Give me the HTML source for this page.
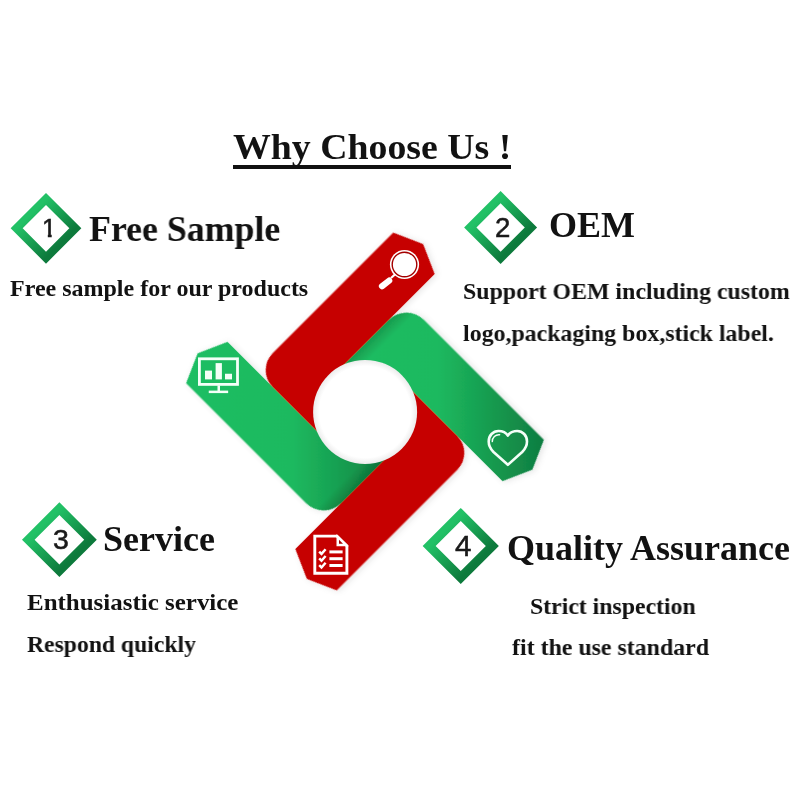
<!DOCTYPE html>
<html>
<head>
<meta charset="utf-8">
<title>Why Choose Us</title>
<style>
html,body{margin:0;padding:0;background:#fff;}
body{width:800px;height:800px;position:relative;overflow:hidden;font-family:"Liberation Serif",serif;color:#111;}
svg{position:absolute;left:0;top:0;}
.t{will-change:transform;position:absolute;white-space:nowrap;font-weight:bold;transform-origin:0 0;line-height:1;color:#121212;}
.h{font-size:36px;}
.b{font-size:24px;}
.n{will-change:transform;-webkit-text-stroke:0.55px #1a1a1a;position:absolute;font-family:"Liberation Sans",sans-serif;font-size:25px;line-height:1;color:#1a1a1a;transform-origin:0 0;}
</style>
</head>
<body>
<svg width="800" height="800" viewBox="0 0 800 800">
<defs>
<linearGradient id="gL" gradientUnits="userSpaceOnUse" x1="-126.5" y1="-126.5" x2="24" y2="24">
<stop offset="0" stop-color="#1fbe63"/><stop offset="0.5" stop-color="#1db95f"/><stop offset="0.75" stop-color="#169b4f"/><stop offset="1" stop-color="#0f7d41"/>
</linearGradient>
<linearGradient id="gR" gradientUnits="userSpaceOnUse" x1="-24" y1="-24" x2="126.5" y2="126.5">
<stop offset="0" stop-color="#1fbe63"/><stop offset="0.5" stop-color="#1db95f"/><stop offset="0.75" stop-color="#169b4f"/><stop offset="1" stop-color="#0f7d41"/>
</linearGradient>
<linearGradient id="sR" gradientUnits="userSpaceOnUse" x1="0" y1="-48" x2="0" y2="-34">
<stop offset="0" stop-color="#003010" stop-opacity="0.24"/><stop offset="1" stop-color="#003010" stop-opacity="0"/>
</linearGradient>
<linearGradient id="sL" gradientUnits="userSpaceOnUse" x1="0" y1="48" x2="0" y2="34">
<stop offset="0" stop-color="#003010" stop-opacity="0.24"/><stop offset="1" stop-color="#003010" stop-opacity="0"/>
</linearGradient>
<radialGradient id="gC" cx="0.5" cy="0.5" r="0.5">
<stop offset="0.88" stop-color="#ffffff"/><stop offset="1" stop-color="#ececec"/>
</radialGradient>
<linearGradient id="gD" x1="0" y1="0.5" x2="1" y2="0.5">
<stop offset="0" stop-color="#22c166"/><stop offset="1" stop-color="#0d7a3c"/>
</linearGradient>
<filter id="sh" x="-20%" y="-20%" width="140%" height="140%">
<feDropShadow dx="1" dy="2" stdDeviation="3" flood-color="#000" flood-opacity="0.11"/>
</filter>
</defs>
<g transform="translate(365,411.5) rotate(-45)" filter="url(#sh)">
<!-- green left -->
<path d="M-106.5,-146.5 L-77.25,-159.5 L-48,-146.5 L-48,0 L0,0 L0,48 L-81.5,48 A25,25 0 0 1 -106.5,23 Z" fill="url(#gL)"/>
<path d="M-106.5,-146.5 L-77.25,-159.5 L-48,-146.5 L-48,0 L0,0 L0,48 L-81.5,48 A25,25 0 0 1 -106.5,23 Z" fill="url(#sL)"/>
<!-- green right -->
<path d="M106.5,146.5 L77.25,159.5 L48,146.5 L48,0 L0,0 L0,-48 L81.5,-48 A25,25 0 0 1 106.5,-23 Z" fill="url(#gR)"/>
<path d="M106.5,146.5 L77.25,159.5 L48,146.5 L48,0 L0,0 L0,-48 L81.5,-48 A25,25 0 0 1 106.5,-23 Z" fill="url(#sR)"/>
<!-- red top -->
<path d="M146.5,-106.5 L159.5,-77.25 L146.5,-48 L0,-48 L0,0 L-48,0 L-48,-82.5 A24,24 0 0 1 -24,-106.5 Z" fill="#c60000"/>
<!-- red bottom -->
<path d="M-146.5,106.5 L-159.5,77.25 L-146.5,48 L0,48 L0,0 L48,0 L48,82.5 A24,24 0 0 1 24,106.5 Z" fill="#c60000"/>
</g>
<circle cx="365.1" cy="411.9" r="52" fill="url(#gC)"/>
<!-- icons -->
<g id="icon-search">
<circle cx="404.5" cy="264.5" r="14.6" fill="#fff"/>
<circle cx="404.5" cy="264.5" r="12.3" fill="none" stroke="#a40000" stroke-width="1.4"/>
<line x1="395.2" y1="274.2" x2="391" y2="278" stroke="#fff" stroke-width="2.2"/>
<line x1="389.2" y1="280.6" x2="382" y2="286.2" stroke="#fff" stroke-width="6.2" stroke-linecap="round"/>
</g>
<g id="icon-monitor" fill="#f4fff8">
<rect x="199.4" y="358.8" width="38.1" height="25.6" fill="none" stroke="#f4fff8" stroke-width="2.8"/>
<rect x="205" y="370.6" width="7" height="8.8"/>
<rect x="215.6" y="363.1" width="6.3" height="16.3"/>
<rect x="225" y="373.75" width="7" height="5.65"/>
<rect x="217.5" y="385.4" width="2.5" height="5.6"/>
<rect x="208.75" y="390.6" width="19.4" height="2.5"/>
</g>
<g id="icon-heart" fill="none" stroke="#f4fff8" stroke-linejoin="round" stroke-linecap="round">
<path d="M507.85 435.6 C506 432.6 502.5 431 498.5 431 C493 431 488.7 435.5 488.7 441.5 C488.7 446 490.5 449 493.5 452 L507.85 464.8 L522.2 452 C525.2 449 527 446 527 441.5 C527 435.5 522.7 431 517.2 431 C513.2 431 509.7 432.6 507.85 435.6 Z" stroke-width="2.6"/>
<path d="M492.3 441.6 A6.6 6.6 0 0 1 499.6 434.7" stroke-width="1.5"/>
</g>
<g id="icon-doc" fill="none" stroke="#fff">
<path d="M314.8 536.1 H337 L346.9 545.9 V573.2 H314.8 Z" stroke-width="2.9" stroke-linejoin="miter"/>
<path d="M337.6 536.6 V545.2 H346.2 Z" stroke-width="2.2" fill="#fff"/>
<path d="M339 539.8 V543.8 H343 Z" stroke="none" fill="#a80000"/>
<g stroke-width="3">
<line x1="329.4" y1="551.9" x2="342.6" y2="551.9"/>
<line x1="329.4" y1="558.7" x2="342.6" y2="558.7"/>
<line x1="329.4" y1="565.5" x2="342.6" y2="565.5"/>
</g>
<g stroke-width="2.5">
<path d="M319.2 551.6 l2.3 2.3 l4.1 -4.7"/>
<path d="M319.2 558.4 l2.3 2.3 l4.1 -4.7"/>
<path d="M319.2 565.2 l2.3 2.3 l4.1 -4.7"/>
</g>
</g>
<!-- diamonds -->
<g fill="none" stroke="url(#gD)">
<rect x="-20.75" y="-20.75" width="41.5" height="41.5" stroke-width="8.5" transform="translate(46,228.3) rotate(45)"/>
<rect x="-21.45" y="-21.45" width="42.9" height="42.9" stroke-width="8.7" transform="translate(500.6,227.5) rotate(45)"/>
<rect x="-22" y="-22" width="44" height="44" stroke-width="8.9" transform="translate(59.4,539.7) rotate(45)"/>
<rect x="-22.35" y="-22.35" width="44.7" height="44.7" stroke-width="9.2" transform="translate(460.75,546) rotate(45)"/>
</g>
</svg>
<div class="t h" id="title" style="left:232.6px;top:129.0px;transform:scaleX(1.05)">Why Choose Us !</div>
<div id="ul" style="position:absolute;left:233px;top:165.3px;width:278px;height:3.4px;background:#111"></div>
<div class="t h" id="h1" style="left:88.8px;top:211.0px;transform:scaleX(0.995)">Free Sample</div>
<div class="t h" id="h2" style="left:548.7px;top:207.0px">OEM</div>
<div class="t h" id="h3" style="left:103px;top:521.0px">Service</div>
<div class="t h" id="h4" style="left:507.2px;top:530.0px">Quality Assurance</div>
<div class="t b" id="b1" style="left:9.7px;top:276.0px">Free sample for our products</div>
<div class="t b" id="b2" style="left:462.8px;top:279.0px;transform:scaleX(0.994)">Support OEM including custom</div>
<div class="t b" id="b3" style="left:463.2px;top:321.0px;transform:scaleX(0.994)">logo,packaging box,stick label.</div>
<div class="t b" id="b4" style="left:27px;top:590.0px;transform:scaleX(1.04)">Enthusiastic service</div>
<div class="t b" id="b5" style="left:27px;top:632.0px;transform:scaleX(0.985)">Respond quickly</div>
<div class="t b" id="b6" style="left:529.5px;top:593.5px;transform:scaleX(0.99)">Strict inspection</div>
<div class="t b" id="b7" style="left:511.7px;top:635.0px;transform:scaleX(0.995)">fit the use standard</div>
<div class="n" id="n1" style="left:42px;top:216.1px;font-size:25.5px;clip-path:polygon(0 0,100% 0,100% 17.6px,9.7px 17.6px,9.7px 100%,5.8px 100%,5.8px 17.6px,0 17.6px)">1</div>
<div class="n" id="n2" style="left:494.8px;top:213.6px;font-size:27.6px">2</div>
<div class="n" id="n3" style="left:53.3px;top:525.0px;font-size:28.5px">3</div>
<div class="n" id="n4" style="left:455.2px;top:530.9px;font-size:29.6px">4</div>
</body>
</html>
